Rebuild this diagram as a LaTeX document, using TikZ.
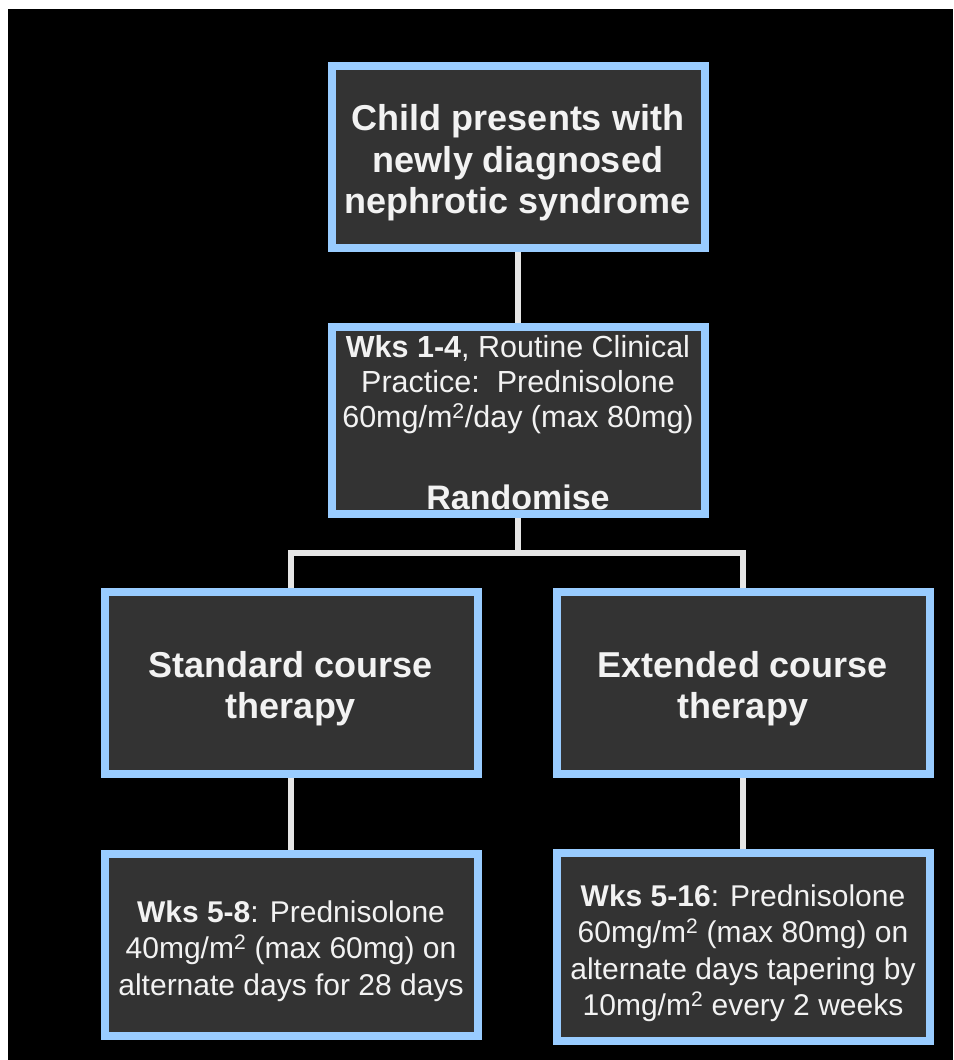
\documentclass[tikz,border=0pt]{standalone}
\usepackage{fontspec}
\setmainfont{Liberation Sans}
\usetikzlibrary{positioning}
\usetikzlibrary{backgrounds}
\definecolor{boxblue}{HTML}{99CCFF}
\definecolor{boxgrey}{HTML}{333333}
\definecolor{linegrey}{HTML}{E6E6E6}
\definecolor{textwhite}{HTML}{F2F2F2}
\newcommand{\liftline}[1]{\rule{0pt}{#1}}
\tikzset{
	flowbox/.style = {
		rectangle,
		align=center,
		inner sep=0pt,
		draw=boxblue,
		fill=boxgrey,
		text=textwhite,
		line width=8pt,
		minimum width=373pt
	},
	box_head/.style = {
		flowbox,
		minimum height=182pt,
		font=\bfseries\fontsize{36}{41.5}\selectfont
	},
	box_rand/.style = {
		flowbox,
		minimum height=187pt,
		font=\fontsize{30.5}{35}\selectfont
	},
	box_wks/.style = {
		flowbox,
		font=\fontsize{30}{36.5}\selectfont
	},
	link/.style = {
		draw=linegrey,
		line width=6pt
	},
}

\begin{document}
\begin{tikzpicture}[x=1pt,y=1pt]
\useasboundingbox (0,0) rectangle (953,-1060);
\node [box_head] (present) at (518,-157) {\liftline{37.5pt}Child presents with\\newly diagnosed\\nephrotic syndrome};
\node [box_rand, below=71pt of present] (rand) {\liftline{26.5pt}\textbf{Wks 1-4}, Routine Clinical\\Practice:\ \ Prednisolone\\60mg/m\textsuperscript{2}/day (max 80mg)\\[47pt]{\bfseries\fontsize{34}{38}\selectfont Randomise}};
\node [box_head, below=70pt of rand.south, xshift=-227pt] (standard) {\liftline{37.5pt}Standard course\\therapy};
\node [box_head, below=70pt of rand.south, xshift=225pt] (extended) {\liftline{37.5pt}Extended course\\therapy};
\node [box_wks, minimum height=182pt, below=72pt of standard] (stdwks) {\liftline{34pt}\textbf{Wks 5-8}: Prednisolone\\40mg/m\textsuperscript{2} (max 60mg) on\\alternate days for 28 days};
\node [box_wks, minimum height=188pt, below=71pt of extended] (extwks) {\liftline{34pt}\textbf{Wks 5-16}: Prednisolone\\60mg/m\textsuperscript{2} (max 80mg) on\\alternate days tapering by\\10mg/m\textsuperscript{2} every 2 weeks};
\coordinate [below=35pt of rand.south] (split);
% background and connectors
\begin{scope}[on background layer]
\fill [white] (0,0) rectangle (953,-1060);
\fill [black] (8,-9) rectangle (953,-1060);
\draw [link] (present) -- (rand);
\draw [link] (rand.south) -- (split) -| (standard.north);
\draw [link] (split) -| (extended.north);
\draw [link] (standard) -- (stdwks);
\draw [link] (extended) -- (extwks);
\end{scope}
\end{tikzpicture}
\end{document}
